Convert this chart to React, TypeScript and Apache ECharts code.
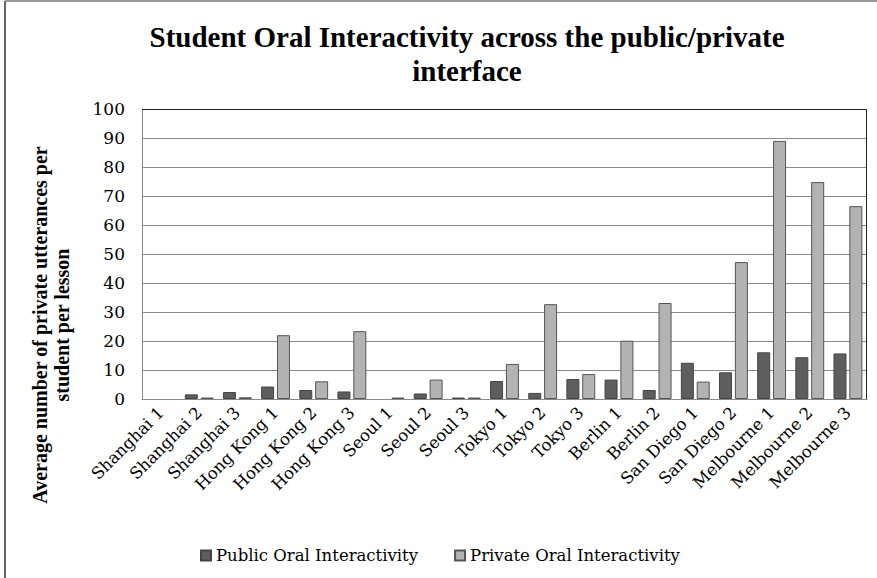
import React, { useEffect, useRef } from "react";
import * as echarts from "echarts";

const categories = [
  "Shanghai 1", "Shanghai 2", "Shanghai 3",
  "Hong Kong 1", "Hong Kong 2", "Hong Kong 3",
  "Seoul 1", "Seoul 2", "Seoul 3",
  "Tokyo 1", "Tokyo 2", "Tokyo 3",
  "Berlin 1", "Berlin 2",
  "San Diego 1", "San Diego 2",
  "Melbourne 1", "Melbourne 2", "Melbourne 3",
];
const publicValues = [0, 1.6, 2.4, 4.3, 3.1, 2.6, 0, 1.9, 0.5, 6.2, 2.1, 6.9, 6.7, 3.1, 12.5, 9.2, 16.1, 14.4, 15.7];
const privateValues = [0, 0.5, 0.6, 22.0, 6.1, 23.4, 0.5, 6.7, 0.5, 12.1, 32.7, 8.6, 20.1, 33.1, 6.0, 47.2, 89.0, 74.8, 66.5];
const seriesNames = ["Public Oral Interactivity", "Private Oral Interactivity"];
const titleLines = ["Student Oral Interactivity across the public/private", "interface"];
const yTitleLines = ["Average number of private utterances per", "student per lesson"];

const toBarData = (vals: number[]) =>
  vals.map((v) => (v === 0 ? { value: 0, itemStyle: { borderWidth: 0, opacity: 0 } } : v));

export default function App() {
  const ref = useRef<HTMLDivElement>(null);
  useEffect(() => {
    document.body.style.margin = "0";
    const chart = echarts.init(ref.current!, null, { renderer: "svg" });
    const serif = "DejaVu Serif";
    chart.setOption({
      animation: false,
      backgroundColor: "#ffffff",
      grid: { left: 142, right: 10, top: 109, bottom: 179, containLabel: false },
      graphic: [
        { type: "line", shape: { x1: 5, y1: 1, x2: 5, y2: 578 }, style: { stroke: "#333", lineWidth: 1.5 } },
        { type: "line", shape: { x1: 5, y1: 1, x2: 877, y2: 1 }, style: { stroke: "#777", lineWidth: 1.5 } },
        { type: "line", shape: { x1: 142, y1: 109.5, x2: 867, y2: 109.5 }, style: { stroke: "#222", lineWidth: 1 }, z: 1 },
        { type: "line", shape: { x1: 866.5, y1: 109, x2: 866.5, y2: 399 }, style: { stroke: "#222", lineWidth: 1 }, z: 1 },
        {
          type: "text", x: 467, y: 54,
          style: {
            text: titleLines.join("\n"), font: "bold 29px 'Liberation Serif'", fill: "#000",
            align: "center", verticalAlign: "middle", lineHeight: 34,
          },
        },
        {
          type: "text", x: 51, y: 325, rotation: Math.PI / 2,
          style: {
            text: yTitleLines.join("\n"), font: "bold 20px 'Liberation Serif'", fill: "#000",
            align: "center", verticalAlign: "middle", lineHeight: 22,
          },
        },
      ],
      legend: {
        left: 195, top: 542,
        itemWidth: 10, itemHeight: 10, itemGap: 36,
        icon: "rect",
        textStyle: { fontFamily: serif, fontSize: 16.5, color: "#000" },
        data: seriesNames,
      },
      xAxis: {
        type: "category",
        data: categories,
        axisLine: { lineStyle: { color: "#8a8a8a", width: 1 } },
        axisTick: { show: false },
        axisLabel: { rotate: 45, margin: 11, interval: 0, fontFamily: serif, fontSize: 16.5, color: "#000" },
      },
      yAxis: {
        type: "value", min: 0, max: 100, interval: 10,
        axisLine: { show: true, lineStyle: { color: "#8a8a8a", width: 1 } },
        axisTick: { show: false },
        splitLine: { lineStyle: { color: "#8a8a8a", width: 1 } },
        axisLabel: { margin: 17, fontFamily: serif, fontSize: 17, color: "#000" },
      },
      series: [
        {
          name: seriesNames[0], type: "bar", data: toBarData(publicValues),
          barWidth: 13, barGap: "22%",
          itemStyle: { color: "#5e5e5e", borderColor: "#444", borderWidth: 1 },
        },
        {
          name: seriesNames[1], type: "bar", data: toBarData(privateValues),
          barWidth: 13,
          itemStyle: { color: "#b3b3b3", borderColor: "#555", borderWidth: 1 },
        },
      ],
    });
    return () => chart.dispose();
  }, []);
  return <div ref={ref} style={{ width: 877, height: 578 }} />;
}
